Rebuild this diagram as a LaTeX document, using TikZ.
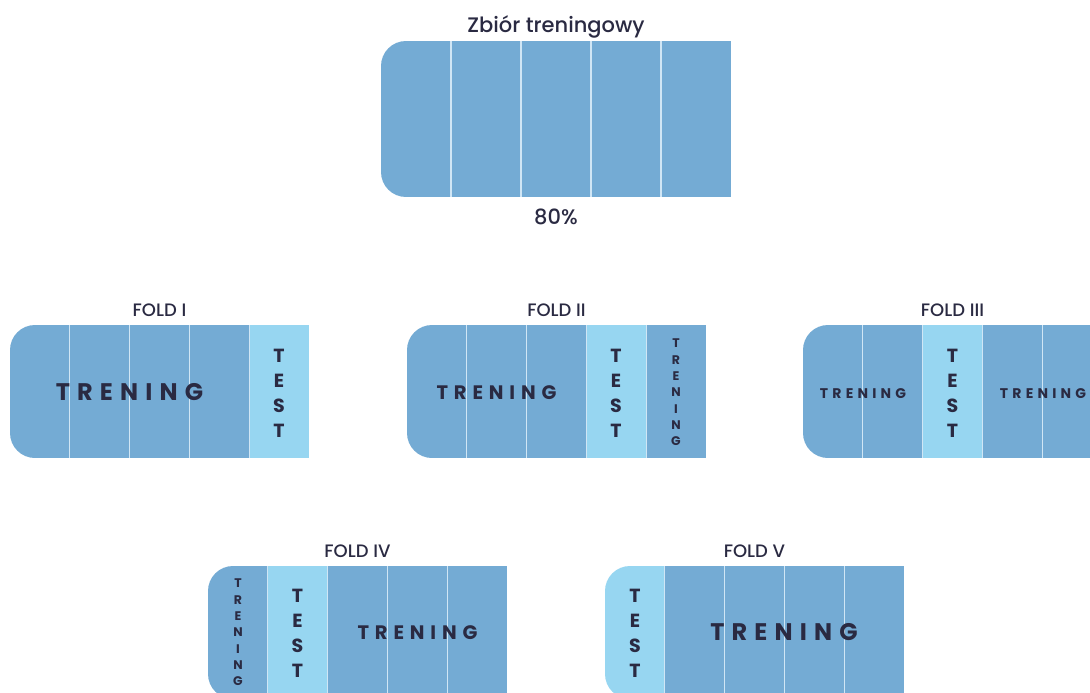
\documentclass[tikz,border=0pt]{standalone}
\usepackage{fontspec}
\setmainfont{Poppins}[BoldFont={Poppins SemiBold}]
\newfontfamily\labelfont{Poppins Medium}
\newfontfamily\spacedfont[LetterSpace=30]{Poppins Bold}
\newfontfamily\stackfont{Poppins Bold}

\definecolor{trainblue}{HTML}{74ABD4}
\definecolor{testblue}{HTML}{97D6F1}
\definecolor{divline}{HTML}{D0E6F5}
\definecolor{ink}{HTML}{2A2A42}

\tikzset{
  divider/.style={draw=divline, line width=1.3pt},
  caption/.style={text=ink, inner sep=0pt, anchor=base, font=\labelfont\fontsize{21}{21}\selectfont},
  foldlabel/.style={text=ink, inner sep=0pt, anchor=base, font=\labelfont\fontsize{18}{18}\selectfont},
  trainL/.style={text=ink, inner sep=0pt, font=\spacedfont\fontsize{24}{24}\selectfont},
  trainM/.style={text=ink, inner sep=0pt, font=\spacedfont\fontsize{19.5}{19.5}\selectfont},
  trainS/.style={text=ink, inner sep=0pt, font=\spacedfont\fontsize{14}{14}\selectfont},
  testV/.style={text=ink, inner sep=0pt, align=center, font=\stackfont\fontsize{19}{25}\selectfont},
  trainV/.style={text=ink, inner sep=0pt, align=center, font=\stackfont\fontsize{12.5}{16.3}\selectfont},
}

% A bar of #5 equal segments: left edge #1, top #2, segment width #3,
% height #4; segment #6 is the test part (0 = none). Left corners rounded.
\newcommand\segbar[6]{%
  \begin{scope}
    \clip[rounded corners=25pt] (#1,#2) rectangle ({#1+#3*#5+40},{#2+#4});
    \foreach \i in {1,...,#5} {
      \ifnum\i=#6\relax \def\segcol{testblue}\else \def\segcol{trainblue}\fi
      \fill[\segcol] ({#1+(\i-1)*#3},#2) rectangle ({#1+\i*#3},{#2+#4});
    }
  \end{scope}
  \foreach \i in {2,...,#5}
    \draw[divider] ({#1+(\i-1)*#3},#2) -- ({#1+(\i-1)*#3},{#2+#4});
}

\begin{document}
\begin{tikzpicture}[x=1pt, y=-1pt]
  \clip (0,0) rectangle (1090,693);
  \fill[white] (0,0) rectangle (1090,693);

  % whole training set
  \segbar{381}{41}{70}{156}{5}{0}
  \node[caption] (title) at (556,33) {Zbiór treningowy};
  \node[caption] (share) at (556,224) {80\%};

  % fold I
  \segbar{10}{325}{59.8}{133}{5}{5}
  \node[foldlabel] (f1lab) at (159.5,316) {FOLD I};
  \node[trainL] (f1train) at (129.5,392.5) {TRENING};
  \node[testV] (f1test) at (279,393) {T\\E\\S\\T};

  % fold II
  \segbar{407}{325}{59.8}{133}{5}{4}
  \node[foldlabel] (f2lab) at (556.5,316) {FOLD II};
  \node[trainM] (f2train) at (496.5,393) {TRENING};
  \node[testV] (f2test) at (616,393) {T\\E\\S\\T};
  \node[trainV] (f2trainv) at (676,392.5) {T\\R\\E\\N\\I\\N\\G};

  % fold III
  \segbar{803}{325}{59.8}{133}{5}{3}
  \node[foldlabel] (f3lab) at (952.5,316) {FOLD III};
  \node[trainS] (f3trainl) at (863,393.5) {TRENING};
  \node[testV] (f3test) at (952.5,393) {T\\E\\S\\T};
  \node[trainS] (f3trainr) at (1043,393.5) {TRENING};

  % fold IV
  \segbar{208}{566}{59.8}{133}{5}{2}
  \node[foldlabel] (f4lab) at (357.5,557) {FOLD IV};
  \node[trainV] (f4trainv) at (238,632.5) {T\\R\\E\\N\\I\\N\\G};
  \node[testV] (f4test) at (297.5,633) {T\\E\\S\\T};
  \node[trainM] (f4train) at (417.5,633) {TRENING};

  % fold V
  \segbar{605}{566}{59.8}{133}{5}{1}
  \node[foldlabel] (f5lab) at (754.5,557) {FOLD V};
  \node[testV] (f5test) at (635,633) {T\\E\\S\\T};
  \node[trainL] (f5train) at (784,632.5) {TRENING};
\end{tikzpicture}
\end{document}
